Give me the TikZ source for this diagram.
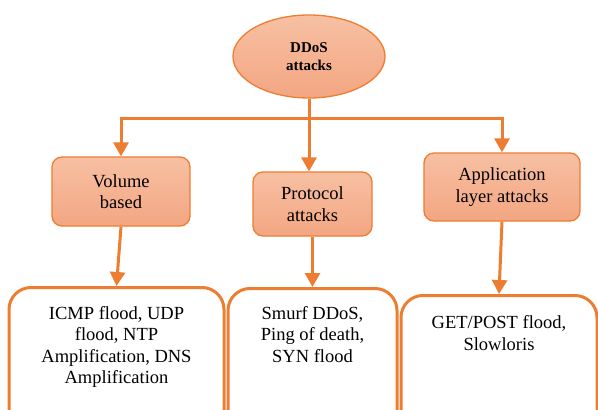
\documentclass[tikz,border=0pt]{standalone}
\usepackage{fontspec}
\setmainfont{Liberation Serif}
\usetikzlibrary{arrows.meta,shapes.geometric}
\definecolor{orng}{RGB}{237,125,49}
\definecolor{ftop}{RGB}{247,192,163}
\definecolor{fbot}{RGB}{243,166,130}
\begin{document}
\begin{tikzpicture}[x=1pt,y=-1pt,
  catbox/.style={draw=orng, line width=1.3pt, rounded corners=10pt, top color=ftop, bottom color=fbot, align=center, font=\fontsize{18.5}{21.5}\selectfont},
  leafbox/.style={draw=orng, line width=3pt, rounded corners=22pt, fill=white, anchor=north},
  leaftext/.style={anchor=north, align=center, inner sep=0pt, font=\fontsize{18.5}{21.5}\selectfont},
  arr/.style={draw=orng, line width=3pt, -{Triangle[width=15pt,length=14pt]}},
  plain/.style={draw=orng, line width=3pt},
]
\clip (0,0) rectangle (598,410);
\fill[white] (0,0) rectangle (598,410);
\node[ellipse, draw=orng, line width=1.3pt, top color=ftop, bottom color=fbot, minimum width=152pt, minimum height=83pt, align=center, font=\bfseries\fontsize{15}{18}\selectfont] (root) at (309,56.5) {DDoS\\attacks};
\node[catbox, minimum width=138pt, minimum height=69pt] (vol) at (121,191.5) {Volume\\based};
\node[catbox, minimum width=119pt, minimum height=64pt] (proto) at (312.5,204) {Protocol\\attacks};
\node[catbox, minimum width=156pt, minimum height=68pt] (app) at (502,187) {Application\\layer attacks};
\node[leafbox, minimum width=215pt, minimum height=150pt] (lbox) at (116.5,286) {};
\node[leafbox, minimum width=169pt, minimum height=150pt] (mbox) at (312.5,287) {};
\node[leafbox, minimum width=196pt, minimum height=150pt] (rbox) at (499,294) {};
\node[leaftext] (ltext) at ([yshift=-20pt]lbox.north) {ICMP flood, UDP\\flood, NTP\\Amplification, DNS\\Amplification};
\node[leaftext] (mtext) at ([yshift=-19pt]mbox.north) {Smurf DDoS,\\Ping of death,\\SYN flood};
\node[leaftext] (rtext) at ([yshift=-21.5pt]rbox.north) {GET/POST flood,\\Slowloris};
\coordinate (bary) at (0,118);
\coordinate (bar) at (root.south |- bary);
\draw[plain] (root.south) -- (bar);
\draw[arr] (root.south) -- (root.south |- proto.north);
\draw[arr] (bar) -| (vol.north);
\draw[arr] (bar) -| (app.north);
\draw[arr] (vol.south) -- (lbox.north);
\draw[arr] (proto.south) -- (mbox.north);
\draw[arr] (app.south) -- (rbox.north);
\end{tikzpicture}
\end{document}
